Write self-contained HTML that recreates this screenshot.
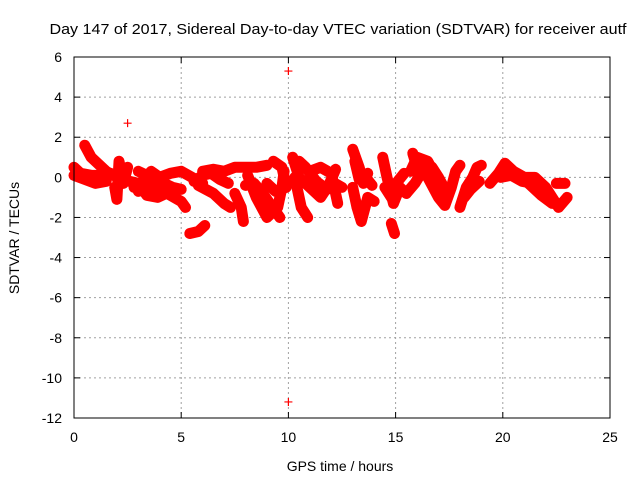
<!DOCTYPE html>
<html><head><meta charset="utf-8"><style>
body{margin:0;background:#fff}
svg{display:block;font-family:"Liberation Sans",sans-serif}
</style></head><body>
<svg id="chart" width="640" height="480">
<text x="338" y="34" font-size="15" text-anchor="middle" textLength="577" lengthAdjust="spacingAndGlyphs">Day 147 of 2017, Sidereal Day-to-day VTEC variation (SDTVAR) for receiver autf</text>
<g id="grid"></g>
<g id="axes"></g>
<g id="series"></g>
<rect x="74" y="57" width="536" height="361" fill="none" stroke="#000" stroke-width="1"/>
<text x="340" y="471" font-size="14" text-anchor="middle">GPS time / hours</text>
<text transform="translate(19,238) rotate(-90)" font-size="14" text-anchor="middle">SDTVAR / TECUs</text>
</svg>
<script>
const xTicks=[0,5,10,15,20,25];
const yTicks=[6,4,2,0,-2,-4,-6,-8,-10,-12];
const spikes=[[2.5,2.7],[10,5.3],[10,-11.2]];
const track1=[[0,0.5],[0.3,0.2],[0.8,0.1],[1.3,0.1],[1.7,0.2]];
const track2=[[0.5,1.6],[0.8,1.0],[1.1,0.7],[1.5,0.3],[1.8,0.1]];
const track3=[[0,0.1],[0.5,-0.1],[1.0,-0.3],[1.5,-0.2]];
const track4=[[1.9,-0.5],[2.0,-1.1],[2.1,0.8],[2.3,-0.3],[2.5,0.5]];
const track5=[[2.8,-0.5],[3.2,-0.2],[3.6,0.3],[4.0,0],[4.5,0.2],[5,0.3],[5.5,0],[6,-0.3]];
const track6=[[3,-0.7],[3.5,-0.5],[4,-0.6],[4.5,-0.9],[5,-1.2],[5.2,-1.5]];
const track6b=[[3.0,0.3],[3.4,0.1],[3.8,-0.2],[4.2,-0.3],[4.6,-0.5],[5.0,-0.6]];
const track6c=[[2.6,-0.2],[3.0,-0.3],[3.4,-0.9],[3.9,-1.0],[4.3,-0.8]];
const track7=[[6,0.3],[6.5,0.4],[7,0.3],[7.5,0.5],[8,0.5],[8.5,0.5],[9,0.6]];
const track7b=[[5.6,-0.2],[6.0,0.1],[6.4,0.2],[6.8,-0.1],[7.2,-0.3]];
const track8=[[5.8,-0.4],[6.5,-0.8],[7.0,-1.3],[7.3,-1.5]];
const track9=[[5.4,-2.8],[5.8,-2.7],[6.1,-2.4]];
const track10=[[7.5,-0.8],[7.8,-1.5],[7.9,-2.2]];
const track11=[[8.1,0.1],[8.5,-1],[9,-2.0],[9.5,-1.5],[9.7,-0.5],[9.8,0.3]];
const track11b=[[8.0,-0.4],[8.4,-0.3],[8.8,-0.8],[9.2,-1.4],[9.6,-2.0]];
const track12=[[9.3,0.8],[9.7,0.5],[9.9,-0.5],[9.4,-0.7],[9.0,-0.3]];
const track13=[[10.2,1.0],[10.5,0],[11,-0.5],[11.5,-1.0],[12,-0.2],[12.5,-0.5]];
const track14=[[10.3,0],[10.6,-1.5],[10.9,-2.0]];
const track15=[[11,0.3],[11.5,0.5],[12,0.2],[12.3,-1.3]];
const track15b=[[10.5,0.8],[10.8,0.5],[11.3,-0.2],[11.8,-0.6],[12.2,0.4]];
const track16=[[13.0,1.4],[13.3,0.5],[13.5,-0.3],[13.7,0.2]];
const track17=[[13.0,-0.5],[13.2,-1.5],[13.4,-2.2],[13.7,-1.0],[14.0,-1.2]];
const track17b=[[13.1,0.8],[13.3,-0.1],[13.6,0.0],[13.9,-0.4]];
const track18=[[14.4,1.0],[14.6,0],[14.9,-1.3],[15.2,-0.5],[15.5,-0.8]];
const track18b=[[14.5,-0.5],[14.8,-1.0],[15.1,-0.2],[15.4,0.2]];
const track19=[[14.8,-2.3],[14.95,-2.8]];
const track20=[[15.8,1.2],[16,0.5],[16.5,0],[17,-1],[17.3,-1.4],[17.6,-0.5],[17.8,0.3],[18,0.6]];
const track21=[[15.7,0.3],[16,1],[16.5,0.8],[16.8,0.2]];
const track21b=[[15.5,-0.8],[15.9,-0.3],[16.3,0.4],[16.7,0.5],[17.0,0.0],[17.3,-0.6]];
const track22=[[18,-1.5],[18.3,-0.5],[18.6,0],[18.8,0.5],[19,0.6]];
const track23=[[18.2,-1.0],[18.5,-0.6],[18.9,-0.2]];
const track24=[[19.4,-0.3],[19.8,0.2],[20.1,0.7],[20.5,0.3],[21,0],[21.5,0],[22,-0.5],[22.6,-1.5],[23,-1.0]];
const track24b=[[19.9,0.0],[20.4,0.1],[20.9,-0.2],[21.4,-0.3]];
const track25=[[21.2,-0.3],[21.8,-0.9],[22.3,-1.3]];
const track26=[[22.5,-0.3],[22.9,-0.3]];
const tracks=[track1,track2,track3,track4,track5,track6,track6b,track6c,track7,track7b,track8,track9,track10,track11,track11b,track12,track13,track14,track15,track15b,track16,track17,track17b,track18,track18b,track19,track20,track21,track21b,track22,track23,track24,track24b,track25,track26];

const NS="http://www.w3.org/2000/svg";
const X0=74,X1=610,Y0=418,Y1=57;
const xs=t=>X0+(t-0)/(25-0)*(X1-X0);
const ys=v=>Y0-(v-(-12))/(6-(-12))*(Y0-Y1);
function mk(tag,attrs,parent){const e=document.createElementNS(NS,tag);for(const k in attrs)e.setAttribute(k,attrs[k]);parent.appendChild(e);return e;}
const grid=document.getElementById('grid'),axes=document.getElementById('axes'),series=document.getElementById('series');
xTicks.forEach(t=>{
  const x=xs(t);
  if(t>0&&t<25){const g=mk('line',{x1:x,x2:x,y1:Y1,y2:Y0,stroke:'#a0a0a0','stroke-dasharray':'2,3'},grid);
  
  }
  mk('line',{x1:x,x2:x,y1:Y0,y2:Y0-6,stroke:'#000'},axes);
  mk('line',{x1:x,x2:x,y1:Y1,y2:Y1+6,stroke:'#000'},axes);
  const l=mk('text',{x:x,y:Y0+24,'font-size':14,'text-anchor':'middle'},axes);l.textContent=t;
  
  
});
yTicks.forEach(v=>{
  const y=ys(v);
  if(v>-12&&v<6){const g=mk('line',{x1:X0,x2:X1,y1:y,y2:y,stroke:'#a0a0a0','stroke-dasharray':'2,3'},grid);
  
  }
  mk('line',{x1:X0,x2:X0+6,y1:y,y2:y,stroke:'#000'},axes);
  mk('line',{x1:X1,x2:X1-6,y1:y,y2:y,stroke:'#000'},axes);
  const l=mk('text',{x:X0-12,y:y+5,'font-size':14,'text-anchor':'end'},axes);l.textContent=v;
  
  
});
function plus(t,v){const x=xs(t),y=ys(v);
  const p=mk('path',{d:`M${x-4},${y}H${x+4}M${x},${y-4}V${y+4}`,stroke:'#f00','stroke-width':1.2},series);
  
  }
tracks.forEach(tr=>{
  const pl=mk('polyline',{points:tr.map(p=>xs(p[0])+','+ys(p[1])).join(' '),fill:'none',stroke:'#f00','stroke-width':11,'stroke-linejoin':'round','stroke-linecap':'round'},series);
  
  
  tr.forEach(p=>plus(p[0],p[1]));
});
spikes.forEach(p=>plus(p[0],p[1]));
</script>
</body></html>
